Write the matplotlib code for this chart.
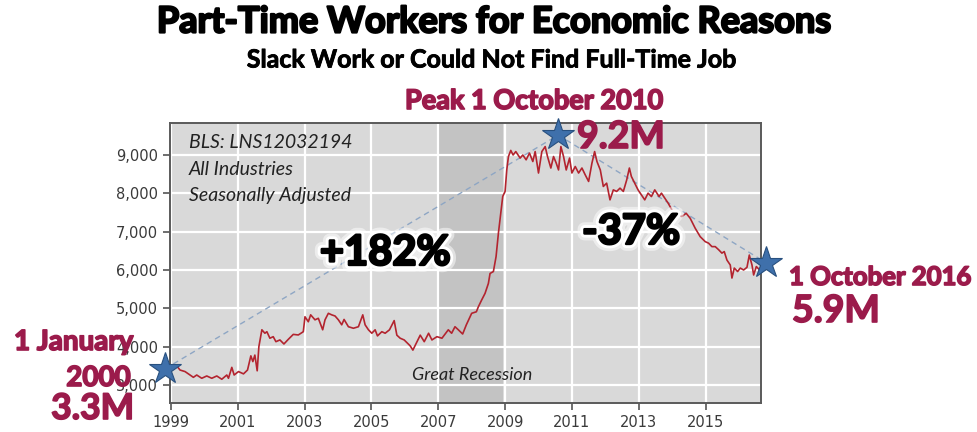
import matplotlib
matplotlib.use("Agg")
import matplotlib.pyplot as plt
import matplotlib.patheffects as pe
from matplotlib.ticker import FuncFormatter

# part-time for economic reasons, thousands (decimal year, level)
years = [
    1999.02, 1999.17, 1999.27, 1999.42, 1999.57, 1999.67, 1999.77, 1999.92,
    2000.07, 2000.22, 2000.37, 2000.52, 2000.67, 2000.72, 2000.82, 2000.89,
    2001.02, 2001.17, 2001.29, 2001.39, 2001.45, 2001.51, 2001.58, 2001.63,
    2001.72, 2001.81, 2001.87, 2001.96, 2002.06, 2002.14, 2002.26, 2002.38,
    2002.51, 2002.66, 2002.81, 2002.96, 2003.01, 2003.11, 2003.18, 2003.31,
    2003.41, 2003.54, 2003.61, 2003.71, 2003.81, 2003.91, 2004.01, 2004.11,
    2004.18, 2004.31, 2004.46, 2004.61, 2004.74, 2004.81, 2004.91, 2005.01,
    2005.11, 2005.18, 2005.31, 2005.41, 2005.54, 2005.68, 2005.76, 2005.86,
    2005.98, 2006.08, 2006.16, 2006.24, 2006.34, 2006.46, 2006.58, 2006.71,
    2006.81, 2006.96, 2007.11, 2007.30, 2007.40, 2007.50, 2007.60, 2007.73,
    2007.84, 2008.00, 2008.14, 2008.20, 2008.30, 2008.40, 2008.50, 2008.55,
    2008.65, 2008.73, 2008.80, 2008.87, 2008.93, 2009.00, 2009.05, 2009.10,
    2009.17, 2009.24, 2009.32, 2009.45, 2009.53, 2009.63, 2009.73, 2009.83,
    2009.90, 2010.00, 2010.10, 2010.20, 2010.27, 2010.37, 2010.45, 2010.53,
    2010.60, 2010.67, 2010.75, 2010.83, 2010.93, 2011.00, 2011.10, 2011.20,
    2011.30, 2011.40, 2011.50, 2011.60, 2011.68, 2011.75, 2011.85, 2011.94,
    2012.04, 2012.14, 2012.24, 2012.34, 2012.44, 2012.54, 2012.64, 2012.72,
    2012.78, 2012.88, 2012.98, 2013.08, 2013.18, 2013.28, 2013.38, 2013.48,
    2013.61, 2013.68, 2013.78, 2013.88, 2014.00, 2014.09, 2014.19, 2014.29,
    2014.42, 2014.54, 2014.69, 2014.84, 2014.99, 2015.09, 2015.19, 2015.29,
    2015.39, 2015.49, 2015.56, 2015.64, 2015.74, 2015.79, 2015.86, 2015.96,
    2016.04, 2016.14, 2016.24, 2016.31, 2016.39, 2016.44, 2016.52, 2016.62,
]
workers = [
    3520, 3500, 3390, 3350, 3260, 3200, 3260, 3175,
    3235, 3175, 3235, 3150, 3260, 3175, 3460, 3260,
    3350, 3290, 3390, 3760, 3610, 3780, 3370, 4000,
    4440, 4350, 4390, 4220, 4260, 4130, 4175, 4070,
    4190, 4320, 4305, 4390, 4780, 4650, 4830, 4700,
    4740, 4440, 4700, 4870, 4830, 4800, 4700, 4570,
    4710, 4520, 4480, 4520, 4830, 4570, 4440, 4350,
    4440, 4280, 4390, 4350, 4440, 4680, 4300, 4220,
    4175, 4090, 4020, 3910, 4090, 4300, 4130, 4350,
    4175, 4260, 4220, 4440, 4350, 4520, 4440, 4330,
    4570, 4870, 4910, 5040, 5220, 5390, 5650, 5910,
    5960, 6350, 6960, 7480, 7920, 8050, 8610, 8960,
    9120, 9000, 9090, 8920, 9000, 8875, 9050, 8830,
    9090, 8530, 9090, 9220, 8960, 8660, 8960, 8790,
    8610, 9220, 8960, 8610, 8920, 8530, 8700, 8530,
    8660, 8480, 8310, 8790, 9090, 8830, 8610, 8180,
    8265, 7830, 8090, 8050, 8135, 8050, 8350, 8660,
    8440, 8265, 8090, 7960, 7830, 8005, 7916, 8090,
    7916, 8005, 7873, 7744, 7560, 7440, 7440, 7395,
    7480, 7350, 7090, 6870, 6740, 6700, 6610, 6610,
    6530, 6440, 6480, 6260, 6130, 5790, 6050, 5960,
    6050, 6000, 6070, 6390, 6130, 5870, 6090, 6000,
]

# start / peak / latest markers joined by dashed trend lines
star_years = [1998.82, 2010.59, 2016.81]
star_values = [3420, 9520, 6190]

recession = (2007.0, 2008.93)
xtick_years = [1999, 2001, 2003, 2005, 2007, 2009, 2011, 2013, 2015]
ytick_values = [3000, 4000, 5000, 6000, 7000, 8000, 9000]

crimson = "#9b1b4b"
star_blue = "#3f70ab"

W, H = 977, 432
fig = plt.figure(figsize=(W / 100, H / 100), dpi=100)
fig.patch.set_facecolor("white")

ax = fig.add_axes([170 / W, 1 - 403 / H, 591 / W, 280 / H])
ax.set_facecolor("#d9d9d9")
ax.set_xlim(1998.97, 2016.66)
ax.set_ylim(2530, 9835)

ax.axvspan(*recession, color="#c3c3c3", zorder=0.5, lw=0)
ax.set_axisbelow(True)
ax.grid(True, color="white", lw=1.6)

ax.plot(years, workers, color="#b3242f", lw=1.2, zorder=3)

# dashed trend lines between the three markers
ax.plot(star_years, star_values, ls=(0, (4, 3)), color="#8ea6c4", lw=1.0,
        zorder=2.5, clip_on=False)
ax.plot(star_years, star_values, ls="none", marker="*", ms=24,
        mfc=star_blue, mec="#28507f", mew=0.8, zorder=6, clip_on=False)

ax.set_xticks(xtick_years)
ax.set_yticks(ytick_values)
ax.yaxis.set_major_formatter(FuncFormatter(lambda v, p: f"{int(v):,}"))
ax.tick_params(direction="out", length=5, width=1.2, color="#555555",
               labelcolor="#3a3a3a", labelsize=10.5)
for s in ax.spines.values():
    s.set_color("#5a5a5a")
    s.set_linewidth(1.4)

# source notes
notes = ["BLS: LNS12032194", "All Industries", "Seasonally Adjusted"]
for i, t in enumerate(notes):
    ax.text(0.032, 0.929 - i * 0.094, t, transform=ax.transAxes, ha="left",
            va="center", fontsize=14, style="italic", family="Lato",
            color="#222222", zorder=7)
ax.text(0.511, 0.1, "Great Recession", transform=ax.transAxes, ha="center",
        va="center", fontsize=13, style="italic", family="Lato",
        color="#222222", zorder=7)

glow = [pe.withStroke(linewidth=10, foreground=(1, 1, 1, 0.5)),
        pe.withStroke(linewidth=6, foreground="white"),
        pe.withStroke(linewidth=1.8, foreground="black")]
ax.text(0.364, 0.536, "+182%", transform=ax.transAxes, ha="center",
        va="center", fontsize=30, fontweight="bold", family="Lato",
        color="black", path_effects=glow, zorder=8)
ax.text(0.780, 0.611, "-37%", transform=ax.transAxes, ha="center",
        va="center", fontsize=30, fontweight="bold", family="Lato",
        color="black", path_effects=glow, zorder=8)


def ftext(px, py, s, size, ha="left", color=crimson, weight="bold",
          stroke=1.2):
    t = fig.text(px / W, 1 - py / H, s, ha=ha, va="center", fontsize=size,
                 fontweight=weight, family="Lato", color=color)
    if stroke:
        t.set_path_effects([pe.withStroke(linewidth=stroke, foreground=color)])


ftext(494, 22, "Part-Time Workers for Economic Reasons", 26, ha="center",
      color="black", stroke=1.6)
ftext(492, 60, "Slack Work or Could Not Find Full-Time Job", 18,
      ha="center", color="black", stroke=0.6)

ftext(405, 101, "Peak 1 October 2010", 19.5)
ftext(577, 137, "9.2M", 27)
ftext(789, 277, "1 October 2016", 18.5)
ftext(792, 311, "5.9M", 27)
ftext(133, 342, "1 January", 20, ha="right")
ftext(131, 378, "2000", 20, ha="right")
ftext(134, 409, "3.3M", 25.5, ha="right")

fig.savefig("out.png", dpi=100)
